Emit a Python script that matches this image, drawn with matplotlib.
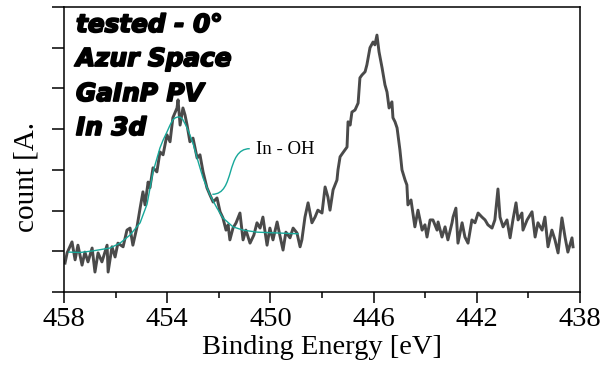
import matplotlib
matplotlib.use("Agg")
import matplotlib.pyplot as plt
from matplotlib.path import Path
from matplotlib.patches import PathPatch
import matplotlib.patheffects as pe

# In 3d / measured spectrum (binding energy in eV, counts in arbitrary units)
energy = [
    457.96, 457.88, 457.69, 457.57, 457.46, 457.30, 457.19, 457.07, 456.91, 456.80,
    456.68, 456.53, 456.33, 456.29, 456.14, 456.02, 455.91, 455.71, 455.56, 455.44,
    455.33, 455.17, 455.05, 454.94, 454.86, 454.74, 454.67, 454.55, 454.40, 454.28,
    454.16, 454.01, 453.89, 453.78, 453.62, 453.58, 453.50, 453.39, 453.31, 453.23,
    453.12, 453.00, 452.84, 452.73, 452.61, 452.46, 452.34, 452.22, 452.07, 451.95,
    451.84, 451.72, 451.64, 451.57, 451.45, 451.33, 451.18, 451.06, 450.95, 450.79,
    450.64, 450.52, 450.40, 450.29, 450.13, 450.02, 449.90, 449.74, 449.63, 449.51,
    449.40, 449.24, 449.12, 448.97, 448.85, 448.78, 448.66, 448.54, 448.39, 448.27,
    448.16, 448.00, 447.88, 447.77, 447.69, 447.57, 447.42, 447.38, 447.30, 447.19,
    447.03, 446.99, 446.91, 446.84, 446.72, 446.60, 446.53, 446.45, 446.33, 446.26,
    446.14, 446.02, 445.95, 445.87, 445.79, 445.67, 445.56, 445.48, 445.40, 445.29,
    445.25, 445.17, 445.09, 444.98, 444.90, 444.78, 444.71, 444.67, 444.55, 444.40,
    444.28, 444.12, 444.01, 443.93, 443.81, 443.70, 443.54, 443.50, 443.35, 443.23,
    443.12, 442.96, 442.92, 442.81, 442.73, 442.57, 442.46, 442.34, 442.19, 442.07,
    441.95, 441.80, 441.68, 441.57, 441.41, 441.30, 441.18, 441.10, 440.98, 440.83,
    440.71, 440.60, 440.48, 440.40, 440.25, 440.21, 440.05, 439.86, 439.74, 439.63,
    439.47, 439.36, 439.24, 439.09, 438.97, 438.85, 438.70, 438.58, 438.47, 438.31,
    438.27,
]
counts = [
    0.71, 0.96, 1.23, 0.79, 1.15, 0.66, 0.98, 0.74, 1.08, 0.49,
    0.96, 0.74, 1.15, 0.49, 1.11, 0.86, 1.20, 1.11, 1.52, 1.57,
    1.15, 1.60, 2.06, 2.46, 2.14, 2.70, 2.56, 3.05, 2.95, 3.44,
    3.37, 3.86, 3.69, 4.28, 4.52, 4.72, 4.10, 4.52, 4.35, 4.10,
    3.69, 3.78, 3.29, 3.37, 2.95, 2.56, 2.38, 2.21, 2.31, 1.97,
    1.82, 1.52, 1.65, 1.28, 1.57, 1.70, 1.94, 1.28, 1.52, 1.20,
    1.40, 1.70, 1.57, 1.84, 1.15, 1.57, 1.28, 1.72, 1.38, 1.03,
    1.47, 1.33, 1.57, 1.45, 1.11, 1.28, 1.84, 2.19, 1.70, 1.84,
    2.01, 1.94, 2.58, 2.33, 2.01, 2.51, 2.75, 3.00, 3.32, 3.42,
    3.56, 4.18, 4.10, 4.42, 4.47, 4.64, 5.26, 5.33, 5.41, 5.58,
    6.00, 6.14, 6.07, 6.31, 5.90, 5.50, 5.09, 4.91, 4.52, 4.67,
    4.28, 4.18, 4.03, 3.49, 3.00, 2.75, 2.63, 2.14, 2.26, 1.60,
    2.01, 1.52, 1.65, 1.35, 1.77, 1.77, 1.52, 1.72, 1.35, 1.60,
    1.28, 1.70, 1.84, 2.06, 1.20, 1.70, 1.35, 1.20, 1.77, 1.70,
    1.94, 1.84, 1.77, 1.65, 1.57, 1.77, 2.53, 1.84, 1.60, 1.77,
    1.33, 1.77, 2.19, 1.77, 1.94, 1.52, 1.77, 1.97, 1.35, 1.70,
    1.52, 1.84, 1.11, 1.52, 1.28, 0.96, 1.82, 1.35, 0.98, 1.33,
    1.11,
]

# In - OH fitted component (envelope over its background)
fit_energy = [
    457.81, 457.38, 456.88, 456.22, 455.83, 455.44, 455.05, 454.78, 454.55, 454.28,
    454.16, 454.01, 453.89, 453.78, 453.68, 453.58, 453.48, 453.39, 453.25, 453.12,
    452.98, 452.84, 452.73, 452.61, 452.34, 452.07, 451.84, 451.45, 451.06, 450.52,
    449.74, 448.93,
]
fit_counts = [
    0.98, 0.97, 1.01, 1.08, 1.20, 1.40, 1.70, 2.16, 2.95, 3.54,
    3.73, 3.93, 4.10, 4.23, 4.28, 4.30, 4.29, 4.23, 4.06, 3.86,
    3.61, 3.29, 3.05, 2.80, 2.38, 2.06, 1.82, 1.60, 1.52, 1.47,
    1.45, 1.43,
]

x_ticks = [458, 454, 450, 446, 442, 438]
x_minor = [456, 452, 448, 444, 440]
y_ticks = [0, 1, 2, 3, 4, 5, 6, 7]
sample_lines = ["tested - 0\u00b0", "Azur Space", "GaInP PV", "In 3d"]
component_label = "In - OH"

W, H = 613, 375
fig = plt.figure(figsize=(W / 100, H / 100), dpi=100)
ax = fig.add_axes([64 / W, 1 - 292 / H, (580 - 64) / W, (292 - 7) / H])

serif = "Liberation Serif"
gray = "#4a4a4a"
teal = "#17a89a"

ax.plot(energy, counts, color=gray, lw=2.1, solid_joinstyle="round", zorder=2)
ax.plot(fit_energy, fit_counts, color=teal, lw=1.0, zorder=3)

ax.set_xlim(458, 438)
ax.set_ylim(0, 7)

ax.set_xticks(x_ticks)
ax.set_xticks(x_minor, minor=True)
ax.set_xticklabels([str(t) for t in x_ticks], fontfamily=serif, fontsize=20.5)
ax.set_yticks(y_ticks)
ax.set_yticklabels([])

ax.tick_params(axis="x", which="major", direction="out", length=8, width=1.1, pad=3)
ax.tick_params(axis="x", which="minor", direction="out", length=4.5, width=1.1)
ax.tick_params(axis="y", which="major", direction="out", length=8.5, width=1.1)
ax.tick_params(top=False, right=False)
for s in ax.spines.values():
    s.set_linewidth(1.1)
    s.set_color("black")

ax.set_xlabel("Binding Energy [eV]", fontfamily=serif, fontsize=20.5, labelpad=2)
fig.text(27 / W, 1 - 177 / H, "count [A.", rotation=90, ha="center", va="center",
         fontfamily=serif, fontsize=21)

# sample description block (heavy italic)
heavy = [pe.withStroke(linewidth=1.3, foreground="black")]
baselines = [32, 66, 101, 135]
for txt, b in zip(sample_lines, baselines):
    fig.text(76 / W, 1 - b / H, txt, ha="left", va="baseline",
             fontfamily="DejaVu Sans", fontweight="bold", fontstyle="oblique",
             fontsize=17.8, zorder=5, path_effects=heavy)

# component label with curved leader
verts = [(452.25, 2.40), (451.35, 2.40), (451.75, 3.52), (450.80, 3.52)]
codes = [Path.MOVETO, Path.CURVE4, Path.CURVE4, Path.CURVE4]
ax.add_patch(PathPatch(Path(verts, codes), fill=False, edgecolor=teal, lw=1.0, zorder=3))
ax.text(450.56, 3.39, component_label, ha="left", va="baseline",
        fontfamily=serif, fontsize=13.5)

fig.savefig("out.png", dpi=100)
